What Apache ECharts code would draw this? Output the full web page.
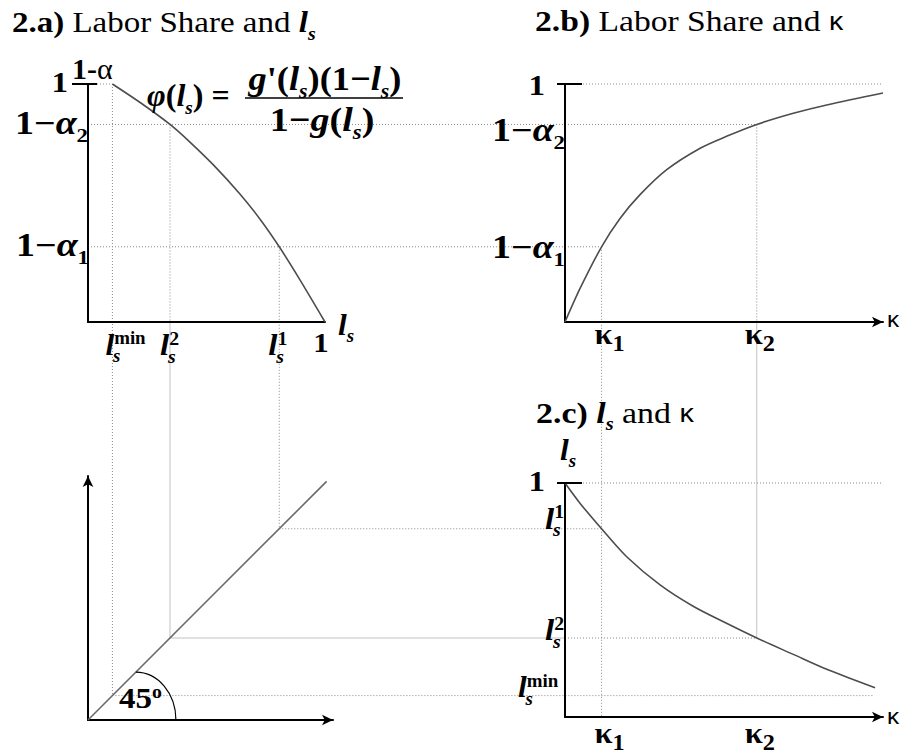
<!DOCTYPE html>
<html>
<head>
<meta charset="utf-8">
<script src="https://cdn.jsdelivr.net/npm/echarts@6/dist/echarts.min.js"></script>
<style>
  html, body { margin: 0; padding: 0; background: #fff; }
  #c { width: 910px; height: 754px; }
</style>
</head>
<body>
<div id="c"></div>
<script>
// ---- key levels ----
const lsMin = 0.103, ls2 = 0.346, ls1 = 0.807;      // l_s^min, l_s^2, l_s^1
const share2 = 0.830, share1 = 0.316;               // 1-alpha_2, 1-alpha_1
const kappa1 = 0.115, kappa2 = 0.603;               // kappa_1, kappa_2
const lsMinGuideEnd = 0.97;                         // reach of the l_s^min guide in 2.c
const cAxisMin = 0.0127;                            // lower end of the l_s axis in 2.c

// 2.a) labor share phi(l_s) against l_s
const phiCurve = [[0.103, 1.0], [0.226, 0.918], [0.346, 0.830], [0.430, 0.756], [0.529, 0.660],
                  [0.641, 0.538], [0.726, 0.432], [0.807, 0.316], [0.895, 0.176], [1.0, 0.0]];
// 2.b) labor share against kappa
const shareKappa = [[0, 0], [0.047, 0.14], [0.115, 0.316], [0.173, 0.435], [0.236, 0.535], [0.32, 0.64],
                    [0.425, 0.73], [0.508, 0.78], [0.603, 0.830], [0.718, 0.877], [0.823, 0.912], [1.0, 0.962]];
// 2.c) l_s against kappa
const lsKappa = [[0, 1.0], [0.047, 0.915], [0.115, 0.807], [0.194, 0.689], [0.299, 0.570], [0.403, 0.480],
                 [0.508, 0.408], [0.603, 0.346], [0.716, 0.278], [0.823, 0.214], [0.975, 0.136]];
// 45-degree mapping line
const diagonal = [[0, 0], [1.007, 1.007]];

const chart = echarts.init(document.getElementById('c'), null, { renderer: 'svg' });

function ax(grid, min, max, arrow) {
  return {
    type: 'value', gridIndex: grid, min: min, max: max,
    axisLine: { show: true, onZero: false, symbol: arrow ? ['none', 'arrow'] : 'none',
                symbolSize: [8, 11], lineStyle: { color: '#000', width: 2 } },
    axisTick: { show: false }, axisLabel: { show: false }, splitLine: { show: false }
  };
}
function curve(idx, data, smooth, color) {
  return { type: 'line', xAxisIndex: idx, yAxisIndex: idx, data: data, smooth: smooth,
           symbol: 'none', z: 5, lineStyle: { color: color, width: 1.6 } };
}

chart.setOption({
  animation: false,
  backgroundColor: '#fff',
  grid: [
    { left: 88, top: 84, width: 237, height: 238 },
    { left: 565, top: 84, width: 318, height: 238 },
    { left: 88, top: 476, width: 245, height: 244 },
    { left: 565, top: 483, width: 318, height: 234 }
  ],
  xAxis: [ax(0, 0, 1, false), ax(1, 0, 1, true), ax(2, 0, 1.0338, true), ax(3, 0, 1, true)],
  yAxis: [ax(0, 0, 1, false), ax(1, 0, 1, false), ax(2, 0, 1.0295, true), ax(3, cAxisMin, 1, false)],
  series: [
    curve(0, phiCurve, 0.3, '#4d4d4d'),
    curve(1, shareKappa, 0.3, '#4d4d4d'),
    curve(2, diagonal, false, '#6a6a6a'),
    curve(3, lsKappa, 0.3, '#4d4d4d')
  ]
});

// ---- guides, tick marks and math labels ----
const P = (g, x, y) => chart.convertToPixel({ gridIndex: g }, [x, y]);
const dotted = { stroke: '#8a8a8a', lineWidth: 1, lineDash: [1, 2] };
const pale = { stroke: '#c2c2c2', lineWidth: 1 };
const solid = { stroke: '#000', lineWidth: 2 };

function seg(p, q, style, z) {
  return { type: 'line', silent: true, z: z === undefined ? -1 : z,
           shape: { x1: p[0], y1: p[1], x2: q[0], y2: q[1] }, style: style };
}

const SERIF = 'Liberation Serif';
// every token is top-aligned; its top padding sets where its glyphs sit
function richSet(s) {
  const base = { fontFamily: SERIF, fontSize: s, verticalAlign: 'top', color: '#000', padding: [0.5 * s, 0, 0, 0] };
  const small = 0.6 * s;
  return {
    b: Object.assign({}, base, { fontWeight: 'bold' }),
    r: Object.assign({}, base),
    i: Object.assign({}, base, { fontWeight: 'bold', fontStyle: 'italic' }),
    sub: Object.assign({}, base, { fontWeight: 'bold', fontStyle: 'italic', fontSize: small, padding: [1.08 * s, 0, 0, 0] }),
    subn: Object.assign({}, base, { fontWeight: 'bold', fontSize: small, padding: [1.08 * s, 0, 0, 0] }),
    ks: Object.assign({}, base, { fontWeight: 'bold', fontSize: 0.75 * s, padding: [0.93 * s, 0, 0, 0] }),
    sup: Object.assign({}, base, { fontWeight: 'bold', fontSize: small, padding: [0.48 * s, 0, 0, 0] }),
    k: Object.assign({}, base, { fontFamily: 'Liberation Sans', fontSize: 0.85 * s, padding: [0.575 * s, 0, 0, 0] })
  };
}
function tx(x, yc, text, s, align, sx) {
  return { type: 'text', silent: true, z: 20, x: x, y: yc - s, scaleX: sx || 1,
           style: { x: 0, y: 0, text: text, rich: richSet(s), align: align || 'left',
                    verticalAlign: 'top', fontFamily: SERIF, fontSize: s, fill: '#000' } };
}
// l_s with a superscript stacked over the subscript
function lsLabel(x, yc, sup, s, sx) {
  sx = sx || 1;
  return [tx(x, yc, '{i|l}{sup|' + sup + '}', s, 'left', sx), tx(x + 0.24 * s * sx, yc, '{sub|s}', s, 'left', sx)];
}

const g = [];
// vertical guides from 2.a down to the 45-degree line
g.push(seg(P(0, lsMin, 1), P(2, lsMin, lsMin), dotted));
g.push(seg(P(0, ls2, share2), P(0, ls2, 0), dotted));
g.push(seg(P(0, ls2, 0), P(2, ls2, ls2), pale));
g.push(seg(P(0, ls1, share1), P(2, ls1, ls1), dotted));
// horizontal guides across 2.a and 2.b
g.push(seg(P(0, 0, 1), P(0, lsMin, 1), dotted));
g.push(seg(P(0, 0, share2), P(1, kappa2, share2), dotted));
g.push(seg(P(0, 0, share1), P(1, kappa1, share1), dotted));
g.push(seg(P(1, 0, 1), P(1, 1, 1), dotted));
// kappa guides from 2.b down to 2.c
g.push(seg(P(1, kappa1, share1), P(3, kappa1, cAxisMin), dotted));
g.push(seg(P(1, kappa2, share2), P(1, kappa2, 0), dotted));
g.push(seg(P(1, kappa2, 0), P(3, kappa2, ls2), pale));
// horizontal guides from the 45-degree line to 2.c
g.push(seg(P(2, ls1, ls1), P(3, kappa1, ls1), dotted));
g.push(seg(P(2, ls2, ls2), P(3, 0, ls2), pale));
g.push(seg(P(3, 0, ls2), P(3, kappa2, ls2), dotted));
g.push(seg(P(2, lsMin, lsMin), P(3, lsMinGuideEnd, lsMin), dotted));
g.push(seg(P(3, 0, 1), P(3, 1, 1), dotted));

// tick marks at 1
const tA = P(0, 0, 1), tB = P(1, 0, 1), tC = P(3, 0, 1);
g.push(seg([tA[0] - 16, tA[1]], [tA[0] + 9, tA[1]], solid, 10));
g.push(seg([tB[0] - 8, tB[1]], [tB[0] + 17, tB[1]], solid, 10));
g.push(seg([tC[0] - 8, tC[1]], [tC[0] + 17, tC[1]], solid, 10));

// 45-degree arc
const a1 = P(2, 0.202, 0.202), a2 = P(2, 0.371, 0);
g.push({ type: 'bezierCurve', silent: true, z: 10,
  shape: { x1: a1[0], y1: a1[1], x2: a2[0], y2: a2[1],
           cpx1: a1[0] + 0.552 * (a2[0] - a1[0]), cpy1: a1[1],
           cpx2: a2[0], cpy2: a2[1] - 0.552 * (a2[1] - a1[1]) },
  style: { stroke: '#000', lineWidth: 1.2, fill: null } });
const o = P(2, 0, 0);
g.push(tx(o[0] + 31, o[1] - 22, '{b|45}{sup|o}', 30, 'left', 1.1));

// titles
g.push(tx(12, 22, '{b|2.a)}{r| Labor Share and }{i|l}{sub|s}', 30, 'left', 1.1));
g.push(tx(535, 21, '{b|2.b)}{r| Labor Share and }{k|κ}', 30, 'left', 1.12));
g.push(tx(536, 413, '{b|2.c)}{r| }{i|l}{sub|s}{r| and }{k|κ}', 30, 'left', 1.13));

// formula in 2.a
const f = P(0, 0, 1);
g.push(tx(f[0] + 59, f[1] + 11, '{i|φ}{b|(}{i|l}{sub|s}{b|) = }', 32, 'left', 1.0));
g.push(tx(f[0] + 237, f[1] - 5, "{i|g}{b|'(}{i|l}{sub|s}{b|)(1−}{i|l}{sub|s}{b|)}", 34, 'center', 1.07));
g.push(seg([f[0] + 157, f[1] + 14], [f[0] + 315, f[1] + 14], { stroke: '#000', lineWidth: 1.5 }, 10));
g.push(tx(f[0] + 234, f[1] + 36, '{b|1−}{i|g}{b|(}{i|l}{sub|s}{b|)}', 34, 'center', 1.12));

// 2.a axis labels
g.push(tx(tA[0] - 20, tA[1] - 1.5, '{b|1}', 30, 'right', 1.1));
g.push(tx(tA[0] - 16, tA[1] - 16, '{b|1-}{r|α}', 30));
let p = P(0, 0, share2);
g.push(tx(p[0], p[1] - 2, '{b|1−}{i|α}{subn|2}', 33, 'right', 1.15));
p = P(0, 0, share1);
g.push(tx(p[0] + 1, p[1] - 2, '{b|1−}{i|α}{subn|1}', 33, 'right', 1.15));
p = P(0, lsMin, 0); g.push.apply(g, lsLabel(p[0] - 7, p[1] + 23, 'min', 30, 1.05));
p = P(0, ls2, 0);   g.push.apply(g, lsLabel(p[0] - 10, p[1] + 23, '2', 30, 1.1));
p = P(0, ls1, 0);   g.push.apply(g, lsLabel(p[0] - 11, p[1] + 23, '1', 30, 1.1));
p = P(0, 1, 0);
g.push(tx(p[0] - 4, p[1] + 20, '{b|1}', 28, 'center', 1.1));
g.push(tx(p[0] + 13, p[1] + 3, '{i|l}{sub|s}', 30, 'left', 1.05));

// 2.b axis labels
g.push(tx(tB[0] - 20, tB[1] + 1, '{b|1}', 30, 'right', 1.1));
p = P(1, 0, share2);
g.push(tx(p[0], p[1] + 5, '{b|1−}{i|α}{subn|2}', 33, 'right', 1.15));
p = P(1, 0, share1);
g.push(tx(p[0], p[1], '{b|1−}{i|α}{subn|1}', 33, 'right', 1.15));
p = P(1, kappa1, 0); g.push(tx(p[0] - 7, p[1] + 12, '{b|κ}{ks|1}', 30, 'left', 1.08));
p = P(1, kappa2, 0); g.push(tx(p[0] - 12, p[1] + 12, '{b|κ}{ks|2}', 30, 'left', 1.08));
p = P(1, 1, 0);      g.push(tx(p[0] + 4, p[1] - 3, '{k|κ}', 26, 'left', 1.1));

// 2.c axis labels
g.push(tx(tC[0] - 5, tC[1] - 33, '{i|l}{sub|s}', 30, 'left', 1.05));
g.push(tx(tC[0] - 20, tC[1] - 1.5, '{b|1}', 30, 'right', 1.1));
p = P(3, 0, ls1);   g.push.apply(g, lsLabel(p[0] - 20, p[1] - 10, '1', 30, 1.1));
p = P(3, 0, ls2);   g.push.apply(g, lsLabel(p[0] - 20, p[1] - 8, '2', 30, 1.1));
p = P(3, 0, lsMin); g.push.apply(g, lsLabel(p[0] - 47, p[1] - 8, 'min', 30, 1.05));
p = P(3, kappa1, cAxisMin); g.push(tx(p[0] - 7, p[1] + 16, '{b|κ}{ks|1}', 30, 'left', 1.08));
p = P(3, kappa2, cAxisMin); g.push(tx(p[0] - 12, p[1] + 16, '{b|κ}{ks|2}', 30, 'left', 1.08));
p = P(3, 1, cAxisMin);      g.push(tx(p[0] + 4, p[1] - 1, '{k|κ}', 26, 'left', 1.1));

chart.setOption({ graphic: { elements: g } });
</script>
</body>
</html>
